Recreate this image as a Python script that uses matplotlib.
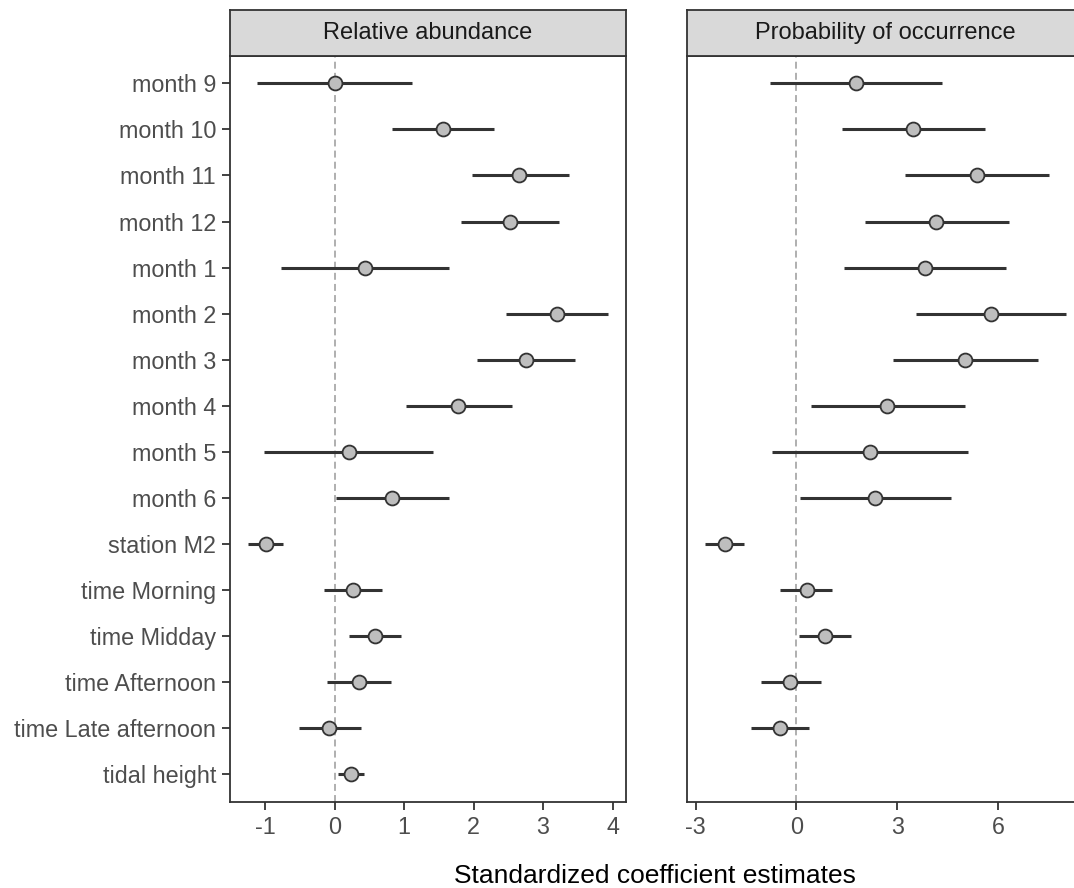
import numpy as np
import matplotlib
matplotlib.use("Agg")
import matplotlib.pyplot as plt

plt.rcParams['font.family'] = ['Liberation Sans', 'DejaVu Sans']
plt.rcParams['lines.scale_dashes'] = False

# ── dati ──────────────────────────────────────────────────────
termini = ["month 9", "month 10", "month 11", "month 12", "month 1", "month 2",
           "month 3", "month 4", "month 5", "month 6", "station M2",
           "time Morning", "time Midday", "time Afternoon",
           "time Late afternoon", "tidal height"]

# Relative abundance
ab_stima = [0.00, 1.56, 2.66, 2.52, 0.43, 3.20, 2.75, 1.78, 0.20, 0.83,
            -0.99, 0.26, 0.58, 0.35, -0.08, 0.23]
ab_low   = [-1.12, 0.83, 1.97, 1.82, -0.78, 2.47, 2.05, 1.02, -1.02, 0.02,
            -1.25, -0.15, 0.21, -0.11, -0.51, 0.05]
ab_high  = [1.11, 2.29, 3.37, 3.23, 1.65, 3.93, 3.46, 2.55, 1.42, 1.65,
            -0.75, 0.68, 0.96, 0.81, 0.37, 0.42]

# Probability of occurrence (tidal height assente)
oc_stima = [1.77, 3.48, 5.37, 4.17, 3.83, 5.79, 5.03, 2.71, 2.18, 2.35,
            -2.13, 0.30, 0.85, -0.18, -0.49, np.nan]
oc_low   = [-0.80, 1.35, 3.24, 2.04, 1.42, 3.55, 2.89, 0.42, -0.74, 0.10,
            -2.72, -0.48, 0.08, -1.06, -1.36, np.nan]
oc_high  = [4.33, 5.62, 7.52, 6.32, 6.24, 8.02, 7.20, 5.03, 5.12, 4.61,
            -1.55, 1.07, 1.62, 0.73, 0.36, np.nan]

pannelli = [
    ("Relative abundance", ab_stima, ab_low, ab_high, (-1.51, 4.19), [-1, 0, 1, 2, 3, 4]),
    ("Probability of occurrence", oc_stima, oc_low, oc_high, (-3.25, 8.56), [-3, 0, 3, 6]),
]

W, H = 1074, 888
fig = plt.figure(figsize=(W / 100, H / 100), dpi=100)

# posizioni in pixel (sinistra, destra) dei pannelli
pos_x = [(230, 625.7), (687.3, 1083.9)]
top, bottom = 55.7, 802
strip_top = 10.3

y = np.arange(len(termini))[::-1]

for i, (titolo, stima, low, high, xlim, xticks) in enumerate(pannelli):
    x0, x1 = pos_x[i]
    ax = fig.add_axes([x0 / W, (H - bottom) / H, (x1 - x0) / W, (bottom - top) / H])

    ax.axvline(0, color='#9a9a9a', lw=1.1, dashes=(5, 3), zorder=1)
    ax.hlines(y, low, high, color='#333333', lw=2.2, zorder=2)
    ax.plot(stima, y, 'o', ms=10, mfc='#bebebe', mec='#333333', mew=1.3,
            zorder=3, linestyle='none')

    ax.set_xlim(*xlim)
    ax.set_ylim(-0.6, len(termini) - 1 + 0.6)
    ax.set_xticks(xticks)
    ax.set_xticklabels([str(t) for t in xticks])
    ax.tick_params(axis='x', length=6, width=1.3, color='#333333',
                   labelsize=16.8, labelcolor='#4d4d4d', pad=4)
    if i == 0:
        ax.set_yticks(y)
        ax.set_yticklabels(termini)
        ax.tick_params(axis='y', length=6, width=1.3, color='#333333',
                       labelsize=16.8, labelcolor='#4d4d4d', pad=4)
    else:
        ax.set_yticks([])
    for s in ax.spines.values():
        s.set_color('#333333')
        s.set_linewidth(1.3)

    # striscia del titolo
    sx = fig.add_axes([x0 / W, (H - top) / H, (x1 - x0) / W, (top - strip_top) / H])
    sx.set_facecolor('#d9d9d9')
    sx.set_xticks([])
    sx.set_yticks([])
    for s in sx.spines.values():
        s.set_color('#333333')
        s.set_linewidth(1.3)
    sx.text(0.5, 0.5, titolo, ha='center', va='center', fontsize=17,
            color='#1a1a1a', transform=sx.transAxes)

fig.text(655 / W, 5 / H, "Standardized coefficient estimates",
         ha='center', va='baseline', fontsize=19, color='black')

plt.savefig("out.png", dpi=100)
